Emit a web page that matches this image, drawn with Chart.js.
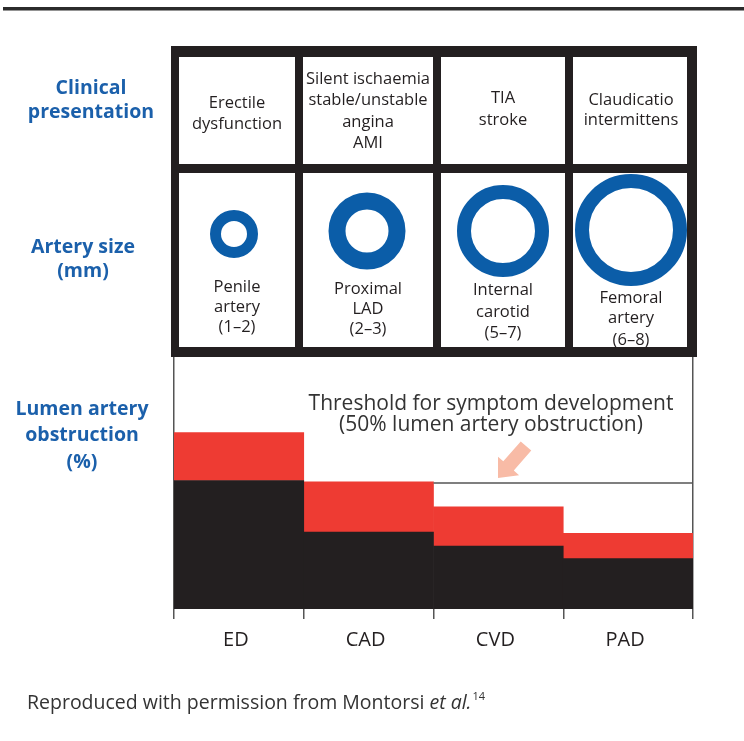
<!DOCTYPE html>
<html>
<head>
<meta charset="utf-8">
<script src="https://cdn.jsdelivr.net/npm/chart.js@4.4.1/dist/chart.umd.min.js"></script>
<style>
  html, body { margin: 0; padding: 0; background: #fff; }
  #wrap { position: relative; width: 744px; height: 741px; }
</style>
</head>
<body>
<div id="wrap"><canvas id="lumenChart"></canvas></div>
<script>
// --- data ---
const categories = ['ED', 'CAD', 'CVD', 'PAD'];
const obstructionBase = [51, 30.5, 25, 20];     // black part (%)
const obstructionExtra = [19, 20, 15.5, 10];    // red part on top (%)
const thresholdValue = 50;                      // symptom threshold (%)
const clinicalLines = [
    ['Erectile', 'dysfunction'],
    ['Silent ischaemia', 'stable/unstable', 'angina', 'AMI'],
    ['TIA', 'stroke'],
    ['Claudicatio', 'intermittens']
];
const arteryLines = [
    ['Penile', 'artery', '(1–2)'],
    ['Proximal', 'LAD', '(2–3)'],
    ['Internal', 'carotid', '(5–7)'],
    ['Femoral', 'artery', '(6–8)']
];

// --- layout / styling ---
const INK = '#231f20';
const RED = '#ee3b33';
const BLUE = '#1b60ab';
const RING = '#0b5da8';
const FONT = '"Open Sans", "Noto Sans", sans-serif';

const table = { left: 171, top: 46, right: 697, bottom: 357 };
const cols = [[179, 295], [303, 433], [441, 565], [573, 687]];
const rows = [[57, 164], [173, 347]];
const textX = [237, 368, 503, 631];
const clinicalY = [[103, 124], [79, 100, 122, 143], [98, 120], [100, 120]];
const arteryY = [[287, 307, 327], [289, 309, 329], [290, 312, 333], [298, 318, 340]];
const rings = [   // cx, cy, outer radius, thickness
    [234, 234, 24, 11],
    [367, 231, 38.5, 17],
    [503, 231, 46, 14],
    [631, 230, 56, 14]
];

function centered(ctx, lines, x, ys, font, color) {
    ctx.font = font;
    ctx.fillStyle = color;
    ctx.textAlign = 'center';
    ctx.textBaseline = 'middle';
    lines.forEach((t, i) => ctx.fillText(t, x, ys[i]));
}

const decorPlugin = {
    id: 'decor',
    afterDatasetsDraw(chart) {
        const ctx = chart.ctx;
        const x = chart.scales.x, y = chart.scales.y;
        // threshold line from CVD to right edge
        const ty = y.getPixelForValue(thresholdValue);
        const x0 = (x.getPixelForValue(1) + x.getPixelForValue(2)) / 2;
        ctx.save();
        ctx.strokeStyle = '#555';
        ctx.lineWidth = 1.5;
        ctx.beginPath();
        ctx.moveTo(x0, ty);
        ctx.lineTo(chart.chartArea.right, ty);
        ctx.stroke();
        ctx.restore();
    },
    afterDraw(chart) {
        const ctx = chart.ctx;
        ctx.save();

        // top rule
        ctx.fillStyle = '#2b2b2b';
        ctx.fillRect(3, 7, 741, 3.5);

        // table frame + cells
        ctx.fillStyle = INK;
        ctx.fillRect(table.left, table.top, table.right - table.left, table.bottom - table.top);
        ctx.fillStyle = '#fff';
        rows.forEach(r => cols.forEach(c => ctx.fillRect(c[0], r[0], c[1] - c[0], r[1] - r[0])));

        // cell text
        for (let i = 0; i < categories.length; i++) {
            centered(ctx, clinicalLines[i], textX[i], clinicalY[i], '16.5px ' + FONT, INK);
            centered(ctx, arteryLines[i], textX[i], arteryY[i], '16.5px ' + FONT, INK);
        }

        // artery rings
        ctx.strokeStyle = RING;
        rings.forEach(r => {
            ctx.lineWidth = r[3];
            ctx.beginPath();
            ctx.arc(r[0], r[1], r[2] - r[3] / 2, 0, Math.PI * 2);
            ctx.stroke();
        });

        // row titles
        const bold = 'bold 19.5px ' + FONT;
        centered(ctx, ['Clinical', 'presentation'], 91, [88, 112], bold, BLUE);
        centered(ctx, ['Artery size', '(mm)'], 83, [247, 271], bold, BLUE);
        centered(ctx, ['Lumen artery', 'obstruction', '(%)'], 82, [409, 435, 462], bold, BLUE);

        // threshold note
        centered(ctx, ['Threshold for symptom development', '(50% lumen artery obstruction)'],
            491, [404, 425], '21px ' + FONT, '#333');

        // pink arrow pointing at threshold line
        const tail = [526, 446], tip = [498, 478];
        const dx = tip[0] - tail[0], dy = tip[1] - tail[1];
        const len = Math.hypot(dx, dy), ux = dx / len, uy = dy / len, px = -uy, py = ux;
        const headLen = 16, bw = 7, hw = 14;
        const hb = [tip[0] - ux * headLen, tip[1] - uy * headLen];
        ctx.fillStyle = '#f8bba6';
        ctx.beginPath();
        ctx.moveTo(tail[0] + px * bw, tail[1] + py * bw);
        ctx.lineTo(hb[0] + px * bw, hb[1] + py * bw);
        ctx.lineTo(hb[0] + px * hw, hb[1] + py * hw);
        ctx.lineTo(tip[0], tip[1]);
        ctx.lineTo(hb[0] - px * hw, hb[1] - py * hw);
        ctx.lineTo(hb[0] - px * bw, hb[1] - py * bw);
        ctx.lineTo(tail[0] - px * bw, tail[1] - py * bw);
        ctx.closePath();
        ctx.fill();

        // footer
        ctx.fillStyle = '#333';
        ctx.textAlign = 'left';
        ctx.textBaseline = 'alphabetic';
        ctx.font = '19.5px ' + FONT;
        let fx = 27;
        const part1 = 'Reproduced with permission from Montorsi ';
        ctx.fillText(part1, fx, 709);
        fx += ctx.measureText(part1).width;
        ctx.font = 'italic 19.5px ' + FONT;
        ctx.fillText('et al.', fx, 709);
        fx += ctx.measureText('et al.').width;
        ctx.font = '11px ' + FONT;
        ctx.fillText('14', fx + 1, 700);

        ctx.restore();
    }
};

const ctx = document.getElementById('lumenChart').getContext('2d');

const lumenChart = new Chart(ctx, {
    type: 'bar',
    data: {
        labels: categories,
        datasets: [{
            label: 'Base obstruction',
            data: obstructionBase,
            backgroundColor: INK,
            borderWidth: 0
        }, {
            label: 'Additional obstruction',
            data: obstructionExtra,
            backgroundColor: RED,
            borderWidth: 0
        }]
    },
    options: {
        responsive: true,
        maintainAspectRatio: false,
        animation: false,
        layout: { padding: { left: 174, right: 51, top: 357, bottom: 72 } },
        datasets: { bar: { categoryPercentage: 1, barPercentage: 1 } },
        plugins: { legend: { display: false }, tooltip: { enabled: false } },
        scales: {
            x: {
                stacked: true,
                offset: true,
                z: 1,
                border: { display: false },
                grid: {
                    offset: true,
                    drawOnChartArea: true,
                    // only the outer boundary lines run up through the plot
                    color: (c) => (c.index > 0 && c.index < categories.length) ? 'rgba(0,0,0,0)' : '#555',
                    tickColor: '#555',
                    lineWidth: 1.5,
                    tickLength: 10
                },
                ticks: {
                    color: INK,
                    font: { family: FONT, size: 20 },
                    padding: 9,
                    labelOffset: -3,
                    maxRotation: 0
                },
                afterFit: (s) => { s.height = 60; }
            },
            y: {
                stacked: true,
                display: false,
                min: 0,
                max: 100
            }
        }
    },
    plugins: [decorPlugin]
});
</script>
</body>
</html>
